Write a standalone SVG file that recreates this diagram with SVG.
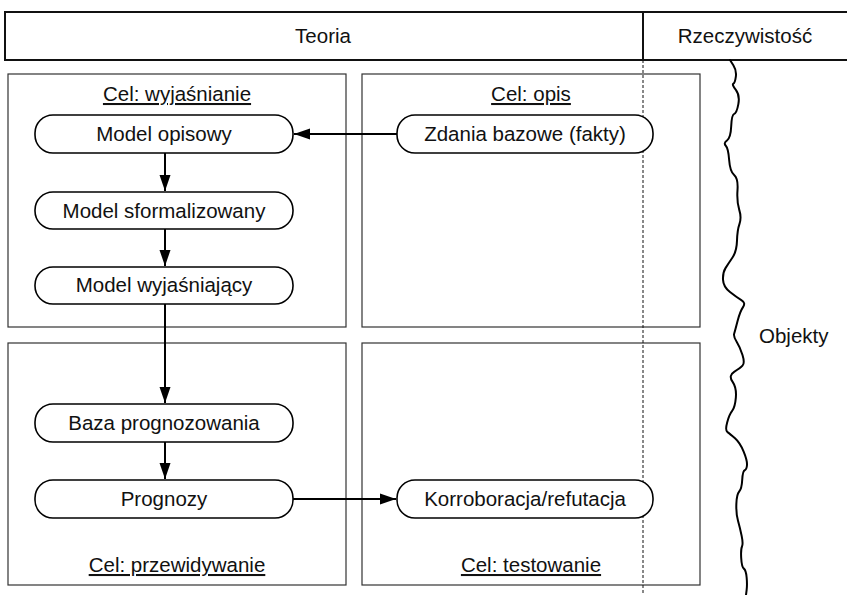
<svg xmlns="http://www.w3.org/2000/svg" width="847" height="595" viewBox="0 0 847 595">
<defs>
<style>
text{font-family:"Liberation Sans",Arial,sans-serif;font-size:20.5px;fill:#111;}
.c{text-anchor:middle;}
.u{text-decoration:underline;}
.panel{fill:none;stroke:#333;stroke-width:1.2;}
.node{fill:#fff;stroke:#000;stroke-width:1.6;}
.hdr{fill:none;stroke:#111;stroke-width:2;}
.conn{fill:none;stroke:#000;stroke-width:2;}
</style>
<marker id="ah" markerUnits="userSpaceOnUse" markerWidth="18" markerHeight="12" refX="16" refY="6" orient="auto">
<path d="M0,0.5 L16,6 L0,11.5 Z" fill="#000"/>
</marker>
</defs>
<rect width="847" height="595" fill="#fff"/>
<g id="header">
<path class="hdr" d="M847,12 H5 V60 H847 M643,12 V60"/>
<text class="c" x="323" y="43">Teoria</text>
<text class="c" x="745" y="43">Rzeczywistość</text>
</g>
<g id="panel-wyjasnianie">
<rect class="panel" x="8" y="74" width="338" height="253"/>
<text class="c u" x="177" y="101">Cel: wyjaśnianie</text>
</g>
<g id="panel-opis">
<rect class="panel" x="362" y="74" width="338" height="253"/>
<text class="c u" x="531" y="101">Cel: opis</text>
</g>
<g id="panel-przewidywanie">
<rect class="panel" x="8" y="343" width="338" height="242"/>
<text class="c u" x="177" y="572">Cel: przewidywanie</text>
</g>
<g id="panel-testowanie">
<rect class="panel" x="362" y="343" width="338" height="242"/>
<text class="c u" x="531" y="572">Cel: testowanie</text>
</g>
<g id="boundary">
<line x1="643" y1="60" x2="643" y2="595" stroke="#111" stroke-width="1" stroke-dasharray="3,2"/>
<path fill="none" stroke="#000" stroke-width="2" stroke-linejoin="round" stroke-linecap="round" d="M730,60 L733.35,65.2 Q736.7,70.4 735.85,76.6 Q735,82.8 733.35,83.7 Q731.7,84.6 735.85,89.9 Q740,95.2 738.35,104.1 Q736.7,113 734.2,113.85 Q731.7,114.7 731.2,126.25 Q730.7,137.8 727,140.45 Q723.3,143.1 725.8,145.75 Q728.3,148.4 729.15,159.95 Q730,171.5 734.15,175.05 Q738.3,178.6 737.5,190.1 Q736.7,201.6 739.2,209.6 Q741.7,217.6 739.5,223.8 Q737.3,230 737,240.65 Q736.7,251.3 732.5,257.5 Q728.3,263.7 725.5,268.1 Q722.7,272.5 723,279.6 Q723.3,286.7 730,292.05 Q736.7,297.4 741.35,300.05 Q746,302.7 743,307.1 Q740,311.5 737.5,321.25 Q735,331 734.15,333.7 Q733.3,336.4 736.65,341.7 Q740,347 742.5,355 Q745,363 742.5,365.65 Q740,368.3 734.15,371.85 Q728.3,375.4 732.5,381.6 Q736.7,387.8 735.85,397.55 Q735,407.3 732.15,410.85 Q729.3,414.4 727.15,422.4 Q725,430.4 727.5,432.15 Q730,433.9 735,438.35 Q740,442.8 743.65,451.65 Q747.3,460.5 747,464.95 Q746.7,469.4 744.7,470.25 Q742.7,471.1 742.2,480 Q741.7,488.9 739.2,491.55 Q736.7,494.2 736.35,503.95 Q736,513.7 738,520.8 Q740,527.9 741.65,535.85 Q743.3,543.8 742,546.45 Q740.7,549.1 741.2,558 Q741.7,566.9 743.85,568.65 Q746,570.4 746.65,577.5 Q747.3,584.6 746.65,589.8 L746,595"/>
<text x="759" y="343">Objekty</text>
</g>
<g id="model-opisowy">
<rect class="node" x="35" y="115" width="258" height="38" rx="18"/>
<text class="c" x="164" y="141">Model opisowy</text>
</g>
<g id="model-sformalizowany">
<rect class="node" x="35" y="192" width="258" height="37" rx="18"/>
<text class="c" x="164" y="218">Model sformalizowany</text>
</g>
<g id="model-wyjasniajacy">
<rect class="node" x="35" y="267" width="258" height="37" rx="18"/>
<text class="c" x="164" y="292">Model wyjaśniający</text>
</g>
<g id="zdania-bazowe">
<rect class="node" x="397" y="115" width="256" height="38" rx="18"/>
<text class="c" x="525" y="141">Zdania bazowe (fakty)</text>
</g>
<g id="baza-prognozowania">
<rect class="node" x="35" y="404" width="258" height="38" rx="18"/>
<text class="c" x="164" y="430">Baza prognozowania</text>
</g>
<g id="prognozy">
<rect class="node" x="35" y="480" width="258" height="38" rx="18"/>
<text class="c" x="164" y="506">Prognozy</text>
</g>
<g id="korroboracja">
<rect class="node" x="397" y="480" width="256" height="38" rx="18"/>
<text class="c" x="525" y="506">Korroboracja/refutacja</text>
</g>
<g id="connectors">
<line class="conn" x1="397" y1="134" x2="294" y2="134" marker-end="url(#ah)"/>
<line class="conn" x1="165" y1="153" x2="165" y2="191" marker-end="url(#ah)"/>
<line class="conn" x1="165" y1="229" x2="165" y2="266" marker-end="url(#ah)"/>
<line class="conn" x1="165" y1="304" x2="165" y2="403" marker-end="url(#ah)"/>
<line class="conn" x1="165" y1="442" x2="165" y2="479" marker-end="url(#ah)"/>
<line class="conn" x1="293" y1="499" x2="396" y2="499" marker-end="url(#ah)"/>
</g>
</svg>
